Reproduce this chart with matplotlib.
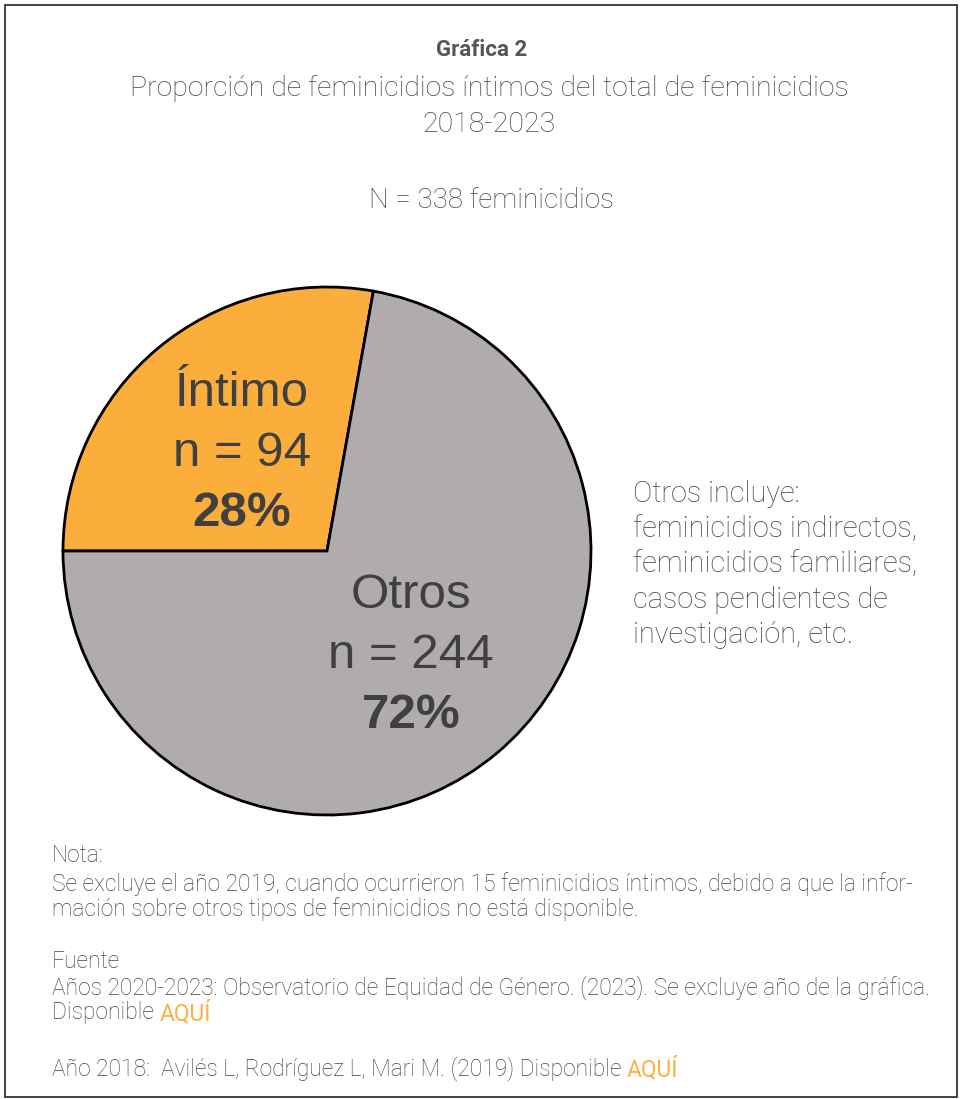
import matplotlib
matplotlib.use("Agg")
import matplotlib.pyplot as plt
from matplotlib import font_manager

categories = ["Íntimo", "Otros"]
counts = [94, 244]
total_n = 338
pcts = ["28%", "72%"]
colors = ["#FBAE3B", "#B0ACAB"]

names = {f.name for f in font_manager.fontManager.ttflist}
narrow = "Liberation Sans Narrow" if "Liberation Sans Narrow" in names else "Roboto"
NF = [narrow, "DejaVu Sans"]
TXT = "#444444"
LAB = "#404040"
ORANGE = "#FBB040"

W, H = 963, 1099
fig = plt.figure(figsize=(W / 100, H / 100), dpi=100)

def fx(px):
    return px / W

def fy(py):
    return 1 - py / H

# frame
fig.add_artist(plt.Rectangle((fx(5), fy(1097)), fx(952), 1092 / H, transform=fig.transFigure,
                             fill=False, edgecolor="#222222", linewidth=1.2))

# titles
fig.text(fx(482), fy(50), "Gráfica 2", ha="center", va="center", fontsize=16,
         fontweight="bold", color="#555555", family=NF)
fig.text(fx(489), fy(89), "Proporción de feminicidios íntimos del total de feminicidios",
         ha="center", va="center", fontsize=20.5, color=TXT, family=NF, fontweight="light")
fig.text(fx(489), fy(125), "2018-2023", ha="center", va="center", fontsize=20.5, color=TXT,
         family=NF, fontweight="light")
fig.text(fx(491), fy(200), f"N = {total_n} feminicidios", ha="center", va="center",
         fontsize=20, color=TXT, family=NF, fontweight="light")

# pie
cx, cy, r = 327, 551, 264
lim = 1.02
ax = fig.add_axes([fx(cx - r * lim), fy(cy + r * lim), 2 * r * lim / W, 2 * r * lim / H])
startangle = 180 - counts[0] / total_n * 360
ax.pie(counts, colors=colors, startangle=startangle, counterclock=True, radius=1,
       wedgeprops=dict(edgecolor="black", linewidth=2))
ax.set_xlim(-lim, lim)
ax.set_ylim(-lim, lim)
ax.set_aspect("equal")
ax.axis("off")

# slice labels (positions in pixels)
lab_pos = [(242, 393), (411, 595)]
for (lx, ly), name, n, p in zip(lab_pos, categories, counts, pcts):
    fig.text(fx(lx), fy(ly), name, ha="center", va="center", fontsize=35.5, color=LAB,
             family="Liberation Sans")
    fig.text(fx(lx), fy(ly + 60), f"n = {n}", ha="center", va="center", fontsize=35.5,
             color=LAB, family="Liberation Sans")
    fig.text(fx(lx), fy(ly + 120), p, ha="center", va="center", fontsize=35.5, color=LAB,
             family="Liberation Sans", fontweight="bold")

# side note
side = ["Otros incluye:", "feminicidios indirectos,", "feminicidios familiares,",
        "casos pendientes de", "investigación, etc."]
for i, s in enumerate(side):
    fig.text(fx(633), fy(494 + 35.2 * i), s, ha="left", va="center", fontsize=20.8,
             color=TXT, family=NF, fontweight="light")

# notes
notes = [
    (856, "Nota:", None),
    (884, "Se excluye el año 2019, cuando ocurrieron 15 feminicidios íntimos, debido a que la infor-", None),
    (909, "mación sobre otros tipos de feminicidios no está disponible.", None),
    (962, "Fuente", None),
    (988, "Años 2020-2023: Observatorio de Equidad de Género. (2023). Se excluye año de la gráfica.", None),
    (1013, "Disponible ", "AQUÍ"),
    (1069, "Año 2018:  Avilés L, Rodríguez L, Mari M. (2019) Disponible ", "AQUÍ"),
]
for y, s, link in notes:
    t = fig.text(fx(52), fy(y), s, ha="left", va="center", fontsize=16.4, color=TXT,
                 family=NF, fontweight="light")
    if link:
        fig.canvas.draw()
        bb = t.get_window_extent()
        fig.text(bb.x1 / W, fy(y), link, ha="left", va="center", fontsize=16.4,
                 color=ORANGE, family=NF)

fig.savefig("out.png", dpi=100, facecolor="white")
